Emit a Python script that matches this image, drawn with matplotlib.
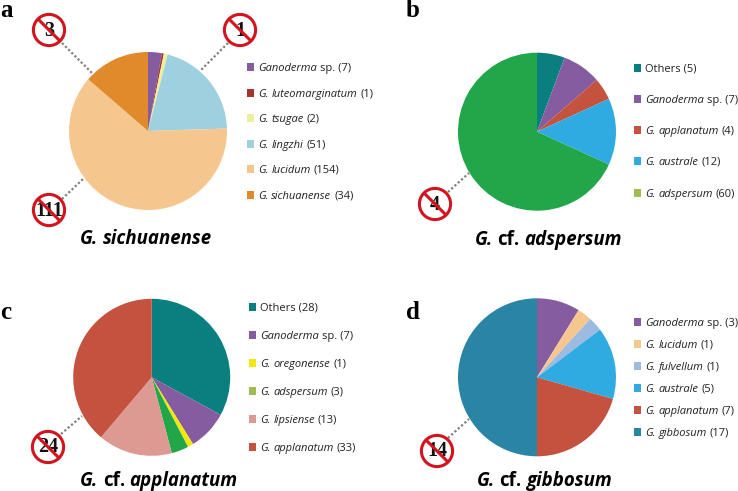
import matplotlib
matplotlib.use("Agg")
import matplotlib.pyplot as plt
from matplotlib.patches import Circle, Rectangle

plt.rcParams.update({'font.family': 'Open Sans'})

W, H = 738, 491
PURPLE, DKRED, PALE, LTBLUE, PEACH, ORANGE = '#855CA0', '#A5342E', '#EEEE9F', '#9FD0E0', '#F6C68F', '#E08A2C'
TEAL, RED, BLUE, GREEN, OLIVE = '#0A7F80', '#C5513F', '#2FABE2', '#21A64A', '#A0BC50'
YELLOW, PINK, PALEBLUE, DKTEAL = '#F4E610', '#DD9A92', '#9DBBE0', '#2A84A3'

a_names = ['Ganoderma sp.', 'G. luteomarginatum', 'G. tsugae', 'G. lingzhi', 'G. lucidum', 'G. sichuanense']
a_values = [7, 1, 2, 51, 154, 34]
a_colors = [PURPLE, DKRED, PALE, LTBLUE, PEACH, ORANGE]
a_legend_colors = a_colors
a_excluded = [3, 1, 111]

b_names = ['Others', 'Ganoderma sp.', 'G. applanatum', 'G. australe', 'G. adspersum']
b_values = [5, 7, 4, 12, 60]
b_colors = [TEAL, PURPLE, RED, BLUE, GREEN]
b_legend_colors = [TEAL, PURPLE, RED, BLUE, OLIVE]
b_excluded = [4]

c_names = ['Others', 'Ganoderma sp.', 'G. oregonense', 'G. adspersum', 'G. lipsiense', 'G. applanatum']
c_values = [28, 7, 1, 3, 13, 33]
c_colors = [TEAL, PURPLE, YELLOW, GREEN, PINK, RED]
c_legend_colors = [TEAL, PURPLE, YELLOW, OLIVE, PINK, RED]
c_excluded = [24]

d_names = ['Ganoderma sp.', 'G. lucidum', 'G. fulvellum', 'G. australe', 'G. applanatum', 'G. gibbosum']
d_values = [3, 1, 1, 5, 7, 17]
d_colors = [PURPLE, PEACH, PALEBLUE, BLUE, RED, DKTEAL]
d_legend_colors = d_colors
d_excluded = [14]

titles = ['G. sichuanense', 'G. cf. adspersum', 'G. cf. applanatum', 'G. cf. gibbosum']
letters = ['a', 'b', 'c', 'd']

fig = plt.figure(figsize=(W / 100, H / 100), dpi=100, facecolor='white')
ov = fig.add_axes([0, 0, 1, 1], zorder=5)
ov.set_xlim(0, W)
ov.set_ylim(H, 0)
ov.axis('off')
ov.patch.set_alpha(0)
renderer = fig.canvas.get_renderer()


def run_text(x, y, pieces, gap, center=False, **kw):
    """Write (string, style) pieces one after the other from x, on baseline y."""
    arts, pos = [], x
    for s, style in pieces:
        t = ov.text(pos, y, s, style=style, ha='left', va='baseline', **kw)
        arts.append(t)
        pos += t.get_window_extent(renderer).width + gap
    if center:
        shift = (pos - gap - x) / 2
        for t in arts:
            t.set_x(t.get_position()[0] - shift)


def legend_pieces(name, n):
    if name == 'Others':
        return [(f'Others ({n})', 'normal')]
    words = name.split(' ')
    if words[-1] == 'sp.':
        return [(words[0], 'italic'), (f'sp. ({n})', 'normal')]
    return [(w, 'italic') for w in words] + [(f'({n})', 'normal')]


def title_pieces(t):
    return [(w, 'normal' if w == 'cf.' else 'italic') for w in t.split(' ')]


def draw_pie(cx, cy, r, values, colors):
    ax = fig.add_axes([(cx - r) / W, 1 - (cy + r) / H, 2 * r / W, 2 * r / H], zorder=1)
    ax.pie(values, colors=colors, startangle=90, counterclock=False, radius=1,
           wedgeprops={'linewidth': 0})
    ax.set_xlim(-1, 1)
    ax.set_ylim(-1, 1)


def draw_legend(x, ys, names, values, colors):
    for y, nm, v, c in zip(ys, names, values, colors):
        ov.add_patch(Rectangle((x, y - 3.7), 7.4, 7.4, fc=c, ec='none'))
        run_text(x + 11, y + 3.6, legend_pieces(nm, v), 3.0, fontsize=8.0, color='#222222')


def draw_ban(cx, cy, n, line):
    ov.plot([line[0], line[2]], [line[1], line[3]], ls=(0, (1, 1)), color='#808080', lw=1.6, zorder=1)
    ov.add_patch(Circle((cx, cy), 15.6, fc='white', ec='#D2141E', lw=2.2, zorder=2))
    ov.text(cx, cy + 0.5, str(n), family='Liberation Serif', weight='bold', fontsize=14.5,
            color='#111111', ha='center', va='center', zorder=3)
    d = 11
    ov.plot([cx - d, cx + d], [cy - d, cy + d], color='#D2141E', lw=2.2, zorder=4, solid_capstyle='butt')


draw_pie(148, 131, 79, a_values, a_colors)
draw_pie(537, 131.7, 79, b_values, b_colors)
draw_pie(151.7, 377.3, 78.5, c_values, c_colors)
draw_pie(537, 377.3, 79, d_values, d_colors)

draw_legend(247, [67, 93, 118, 144, 169, 195], a_names, a_values, a_legend_colors)
draw_legend(634, [68, 99, 130, 161, 193], b_names, b_values, b_legend_colors)
draw_legend(249, [307, 335, 363, 391, 419, 447], c_names, c_values, c_legend_colors)
draw_legend(634, [322, 344, 366, 388, 410, 432], d_names, d_values, d_legend_colors)

draw_ban(49, 30, a_excluded[0], (62, 43, 93, 74))
draw_ban(240, 30, a_excluded[1], (228, 43, 200, 71))
draw_ban(49, 210, a_excluded[2], (62, 199, 83, 179))
draw_ban(435, 204, b_excluded[0], (448, 192, 469, 173))
draw_ban(48, 447, c_excluded[0], (61, 434, 82, 416))
draw_ban(437, 451, d_excluded[0], (448, 438, 469, 419))

for t, (x, y) in zip(titles, [(146, 244), (548, 245), (159, 486), (544, 486)]):
    run_text(x, y, title_pieces(t), 4.5, center=True, fontsize=13.4, weight='bold', color='black')

for l, (x, y) in zip(letters, [(0, 17), (406, 17), (0, 319), (406, 319)]):
    ov.text(x, y, l, family='Liberation Serif', weight='bold', fontsize=18, color='black',
            ha='left', va='baseline')

fig.savefig('out.png', dpi=100)
